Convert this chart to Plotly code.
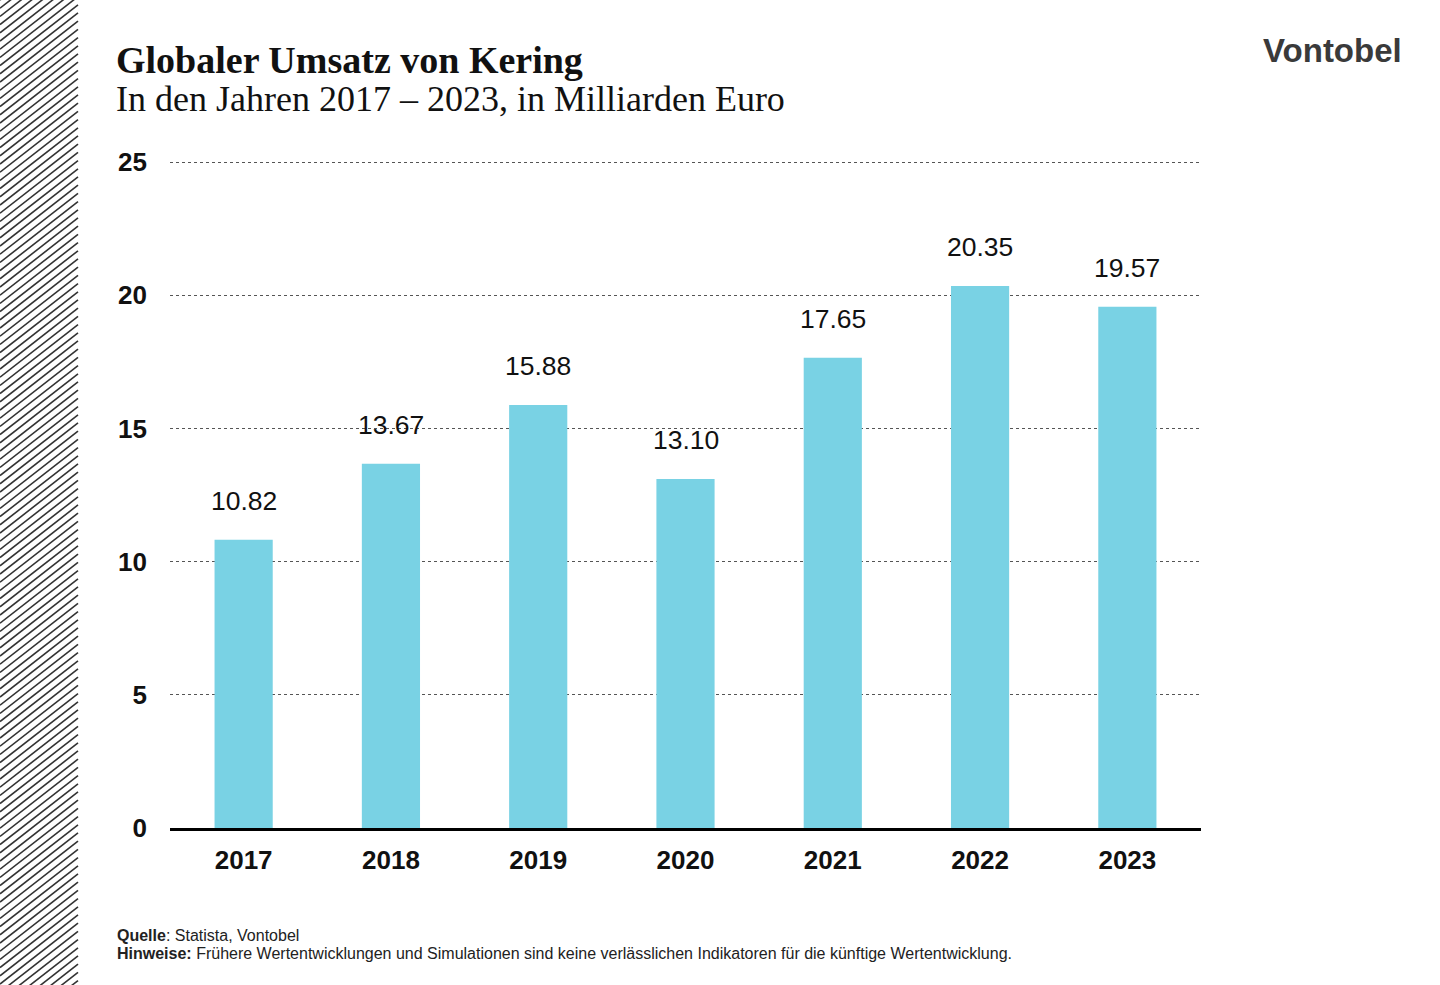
import plotly.graph_objects as go

years = ["2017", "2018", "2019", "2020", "2021", "2022", "2023"]
revenue = [10.82, 13.67, 15.88, 13.10, 17.65, 20.35, 19.57]
value_labels = ["10.82", "13.67", "15.88", "13.10", "17.65", "20.35", "19.57"]
y_ticks = [0, 5, 10, 15, 20, 25]

W, H = 1440, 985
BAR = "#79D2E4"
Y_MAX = 26

def px(x):
    return x / W

def py(y):
    return (H - y) / H

fig = go.Figure()
fig.add_trace(go.Bar(x=years, y=revenue, marker=dict(color=BAR, line=dict(width=0)),
                     width=0.395, hoverinfo="x+y"))

annotations = []
for i, (v, lab) in enumerate(zip(revenue, value_labels)):
    # category axis: position given as the category index
    annotations.append(dict(x=i, y=v, xref="x", yref="y", text=lab, showarrow=False,
                            yanchor="middle", yshift=39,
                            font=dict(family="Liberation Sans, Arial", size=26.5, color="#111")))

annotations += [
    dict(x=px(114), y=py(60), xref="paper", yref="paper", xanchor="left", yanchor="middle",
         text="<b>Globaler Umsatz von Kering</b>", showarrow=False,
         font=dict(family="Liberation Serif, Georgia, serif", size=38, color="#111")),
    dict(x=px(114), y=py(99), xref="paper", yref="paper", xanchor="left", yanchor="middle",
         text="In den Jahren 2017 – 2023, in Milliarden Euro", showarrow=False,
         font=dict(family="Liberation Serif, Georgia, serif", size=36, color="#111")),
    dict(x=px(1404), y=py(50), xref="paper", yref="paper", xanchor="right", yanchor="middle",
         text="<b>Vontobel</b>", showarrow=False,
         font=dict(family="Liberation Sans, Arial", size=33, color="#3a3a3a")),
    dict(x=px(115), y=py(935), xref="paper", yref="paper", xanchor="left", yanchor="middle",
         text="<b>Quelle</b>: Statista, Vontobel", showarrow=False,
         font=dict(family="Liberation Sans, Arial", size=16, color="#222")),
    dict(x=px(115), y=py(953), xref="paper", yref="paper", xanchor="left", yanchor="middle",
         text="<b>Hinweise:</b> Frühere Wertentwicklungen und Simulationen sind keine verlässlichen Indikatoren für die künftige Wertentwicklung.",
         showarrow=False,
         font=dict(family="Liberation Sans, Arial", size=16, color="#222")),
]

# decorative hatch band on the left edge
shapes = []
hatch_w = 78
slope = 0.78
step = 8.2
y0 = -hatch_w * slope
while y0 < H + 10:
    shapes.append(dict(type="line", xref="paper", yref="paper",
                       x0=px(0), y0=py(y0 + hatch_w * slope), x1=px(hatch_w), y1=py(y0),
                       line=dict(color="#333", width=1.6)))
    y0 += step

unit = (828 - 162) / 25.0
fig.update_layout(
    width=W, height=H, autosize=False,
    margin=dict(l=0, r=0, t=0, b=0, pad=0, autoexpand=False),
    paper_bgcolor="white", plot_bgcolor="white",
    showlegend=False,
    annotations=annotations,
    shapes=shapes,
    xaxis=dict(type="category", categoryorder="array", categoryarray=years,
               range=[-0.5, len(years) - 0.5],
               domain=[px(170), px(1201)], showgrid=False, showline=True,
               linecolor="black", linewidth=3, ticks="", ticklabelstandoff=7, automargin=False,
               tickfont=dict(family="Liberation Sans, Arial", size=26, color="#111", weight="bold"),
               fixedrange=True),
    yaxis=dict(domain=[py(828), py(828 - Y_MAX * unit)], range=[0, Y_MAX], tickvals=y_ticks,
               automargin=False,
               showgrid=True, gridcolor="#555", gridwidth=1, griddash="dot",
               zeroline=False, showline=False, ticks="", ticklabelstandoff=22,
               tickfont=dict(family="Liberation Sans, Arial", size=26, color="#111", weight="bold"),
               fixedrange=True),
)

fig.write_html("out.html", config={"displayModeBar": False},
               post_script="document.body.style.margin='0';")
